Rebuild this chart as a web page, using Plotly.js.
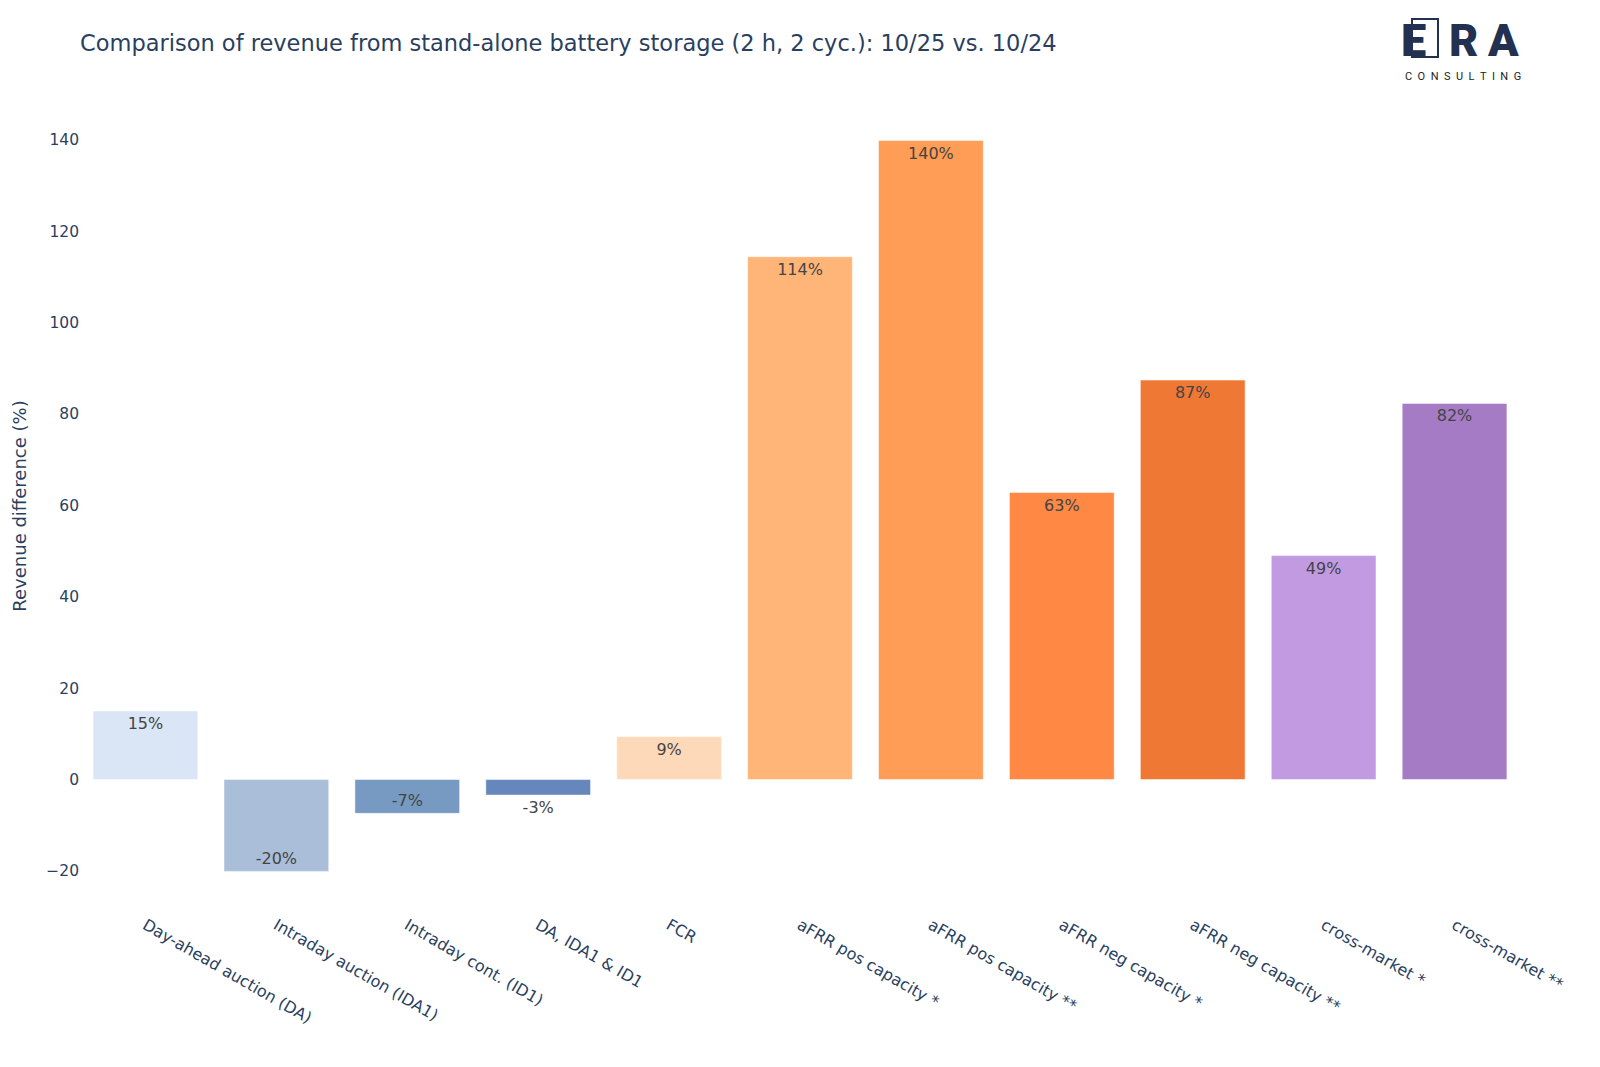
<!DOCTYPE html>
<html>
<head>
<meta charset="utf-8">
<script src="https://cdn.plot.ly/plotly-3.0.1.min.js"></script>
<style>
  html, body { margin: 0; padding: 0; background: #fff; }
  #chart { width: 1600px; height: 1067px; }
</style>
</head>
<body>
<div id="chart"></div>
<script>
// Umsatzvergleich 10/25 vs. 10/24 je Vermarktungsweg
const categories = [
  'Day-ahead auction (DA)',
  'Intraday auction (IDA1)',
  'Intraday cont. (ID1)',
  'DA, IDA1 & ID1',
  'FCR',
  'aFRR pos capacity *',
  'aFRR pos capacity **',
  'aFRR neg capacity *',
  'aFRR neg capacity **',
  'cross-market *',
  'cross-market **'
];
const revenueDiff = [15.0, -20.1, -7.4, -3.4, 9.4, 114.4, 139.8, 62.8, 87.4, 49.0, 82.3];
const barColors = [
  '#dae6f6', '#aabdd9', '#779ac3', '#6687bc',
  '#fed9b9', '#ffb478', '#ff9c55', '#fe8844', '#ef7834',
  '#c29ae2', '#a57bc5'
];

const FONT = '"DejaVu Sans", sans-serif';
const NAVY = '#2a3f5f';
const LOGO = '#22314f';
const NB = '\u00a0\u00a0';

const traces = [{
  type: 'bar',
  x: categories,
  y: revenueDiff,
  marker: { color: barColors, line: { color: '#ffffff', width: 0.5 } },
  texttemplate: '%{y:.0f}%',
  textposition: 'auto',
  textangle: 0,
  constraintext: 'none',
  textfont: { family: FONT, size: 16, color: '#444' },
  hoverinfo: 'x+y'
}];

const layout = {
  width: 1600,
  height: 1067,
  margin: { t: 100, l: 80, r: 80, b: 155 },
  paper_bgcolor: '#ffffff',
  plot_bgcolor: '#ffffff',
  font: { family: FONT, size: 15, color: NAVY },
  bargap: 0.2,
  showlegend: false,
  title: {
    text: 'Comparison of revenue from stand-alone battery storage (2 h, 2 cyc.): 10/25 vs. 10/24',
    font: { family: FONT, size: 22.5, color: NAVY },
    xref: 'container',
    x: 0.05,
    xanchor: 'left',
    y: 0.96,
    yanchor: 'middle'
  },
  xaxis: {
    tickangle: 30,
    tickfont: { family: FONT, size: 16, color: NAVY },
    showgrid: false,
    zeroline: false,
    showline: false,
    automargin: false
  },
  yaxis: {
    title: { text: 'Revenue difference (%)', font: { family: FONT, size: 18, color: NAVY }, standoff: 14 },
    tickfont: { family: FONT, size: 15.5, color: NAVY },
    showgrid: false,
    zeroline: false,
    showline: false,
    automargin: false
  },
  // ERA-Logo oben rechts (Pixelversatz ab rechter oberer Ecke des Plotbereichs)
  shapes: [{
    type: 'rect',
    xref: 'paper', yref: 'paper',
    xsizemode: 'pixel', ysizemode: 'pixel',
    xanchor: 1, yanchor: 1,
    x0: -108, x1: -82, y0: 81, y1: 43,
    line: { color: LOGO, width: 2 },
    fillcolor: 'rgba(0,0,0,0)',
    layer: 'above'
  }],
  annotations: [
    { text: 'E', xref: 'paper', yref: 'paper', x: 1, y: 1, xshift: -107, yshift: 60,
      showarrow: false, font: { family: 'Roboto, sans-serif', size: 45, weight: 900, color: LOGO }, xanchor: 'center', yanchor: 'middle' },
    { text: 'R', xref: 'paper', yref: 'paper', x: 1, y: 1, xshift: -57, yshift: 60,
      showarrow: false, font: { family: 'Roboto, sans-serif', size: 45, weight: 900, color: LOGO }, xanchor: 'center', yanchor: 'middle' },
    { text: 'A', xref: 'paper', yref: 'paper', x: 1, y: 1, xshift: -17, yshift: 60,
      showarrow: false, font: { family: 'Roboto, sans-serif', size: 45, weight: 900, color: LOGO }, xanchor: 'center', yanchor: 'middle' },
    { text: ['C', 'O', 'N', 'S', 'U', 'L', 'T', 'I', 'N', 'G'].join(NB), xref: 'paper', yref: 'paper', x: 1, y: 1, xshift: 3, yshift: 24,
      showarrow: false, font: { family: 'Roboto, sans-serif', size: 11, color: '#222' }, xanchor: 'right', yanchor: 'middle' }
  ]
};

Plotly.newPlot('chart', traces, layout, { displayModeBar: false, staticPlot: true });
</script>
</body>
</html>
